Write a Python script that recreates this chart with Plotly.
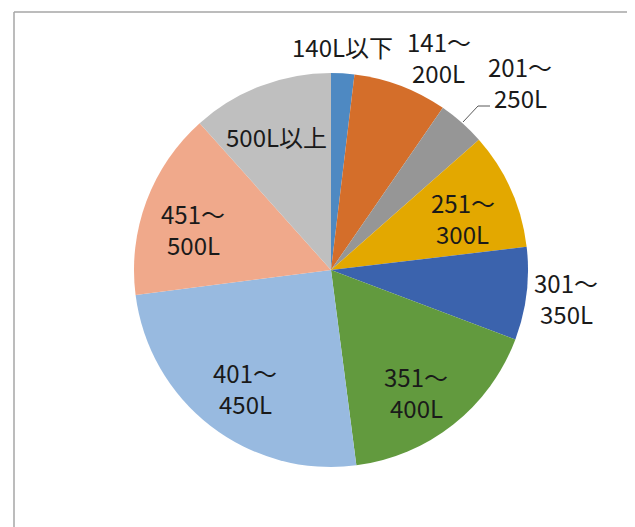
import plotly.graph_objects as go

categories = ["140L以下", "141～200L", "201～250L", "251～300L", "301～350L",
              "351～400L", "401～450L", "451～500L", "500L以上"]
label_lines = [["140L以下"], ["141～", "200L"], ["201～", "250L"], ["251～", "300L"],
               ["301～", "350L"], ["351～", "400L"], ["401～", "450L"], ["451～", "500L"],
               ["500L以上"]]
values = [1.9, 7.7, 3.9, 9.6, 7.6, 17.2, 25.0, 15.4, 11.6]
colors = ["#4E89C2", "#D46E2A", "#969696", "#E3A800", "#3B63AD",
          "#629A3E", "#98BAE0", "#F0A98B", "#BFBFBF"]

W, H = 635, 527
OFF = 8  # page body margin
cx, cy, R = 331 - OFF, 270 - OFF, 197
LINE = 31
# label anchor positions (target pixels, centre of the label block)
label_pos = [(342, 47), (439, 57), (520, 82), (463, 218), (566, 298),
             (416, 392), (245, 388), (193, 229), (276, 136)]


def px(x):
    return (x - OFF) / W


def py(y):
    return 1 - (y - OFF) / H


fig = go.Figure(go.Pie(
    labels=categories, values=values, sort=False, direction="clockwise",
    rotation=0, textinfo="none", hoverinfo="label+percent",
    marker=dict(colors=colors, line=dict(width=0)),
    domain=dict(x=[(cx - R) / W, (cx + R) / W], y=[(H - cy - R) / H, (H - cy + R) / H]),
    showlegend=False,
))

for lines, (x, y) in zip(label_lines, label_pos):
    n = len(lines)
    for i, t in enumerate(lines):
        yy = y + (i - (n - 1) / 2) * LINE
        fig.add_annotation(x=px(x), y=py(yy), xref="paper", yref="paper",
                           text=t, showarrow=False, xanchor="center", yanchor="middle",
                           font=dict(family="Noto Sans CJK JP", size=24, color="#1a1a1a"))

# leader line for 201~250L
fig.add_shape(type="path", xref="paper", yref="paper",
              path=f"M {px(463)},{py(122)} L {px(478)},{py(106)} L {px(490)},{py(106)}",
              line=dict(color="#595959", width=1))
# chart border (top and left)
fig.add_shape(type="line", xref="paper", yref="paper", x0=px(14), x1=px(14), y0=-0.1, y1=py(12),
              line=dict(color="#A6A6A6", width=1.5))
fig.add_shape(type="line", xref="paper", yref="paper", x0=px(14), x1=1.1, y0=py(12), y1=py(12),
              line=dict(color="#A6A6A6", width=1.5))

fig.update_layout(width=W, height=H, margin=dict(l=0, r=0, t=0, b=0),
                  paper_bgcolor="white", plot_bgcolor="white")
fig.write_html("out.html")
